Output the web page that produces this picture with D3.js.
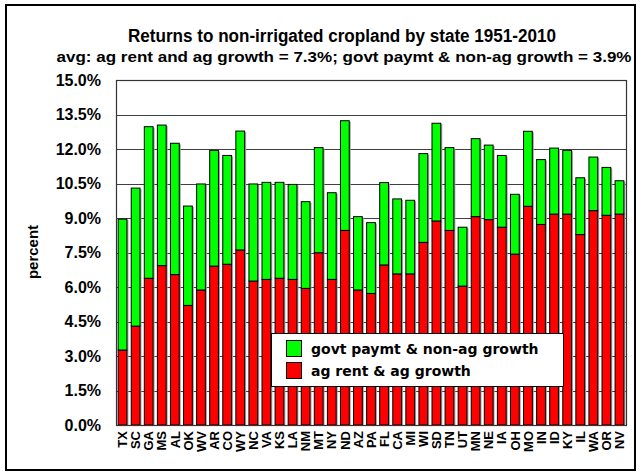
<!DOCTYPE html>
<html><head><meta charset="utf-8">
<script src="https://cdn.jsdelivr.net/npm/d3@7"></script>
<style>body{margin:0;background:#fff}svg{display:block}</style>
</head><body>
<script>
const states = ["TX","SC","GA","MS","AL","OK","WV","AR","CO","WY","NC","VA","KS","LA","NM","MT","NY","ND","AZ","PA","FL","CA","MI","WI","SD","TN","UT","MN","NE","IA","OH","MO","IN","ID","KY","IL","WA","OR","NV"];
const agRent = [3.26,4.30,6.38,6.93,6.54,5.20,5.87,6.91,6.99,7.61,6.26,6.33,6.38,6.33,5.94,7.49,6.33,8.46,5.87,5.72,6.96,6.57,6.57,7.94,8.87,8.46,6.04,9.06,8.93,8.60,7.43,9.51,8.72,9.17,9.17,8.28,9.32,9.12,9.17];
const totalReturn = [8.95,10.30,12.97,13.04,12.25,9.52,10.48,11.94,11.72,12.78,10.48,10.55,10.55,10.46,9.71,12.06,10.10,13.23,9.06,8.80,10.54,9.83,9.77,11.80,13.12,12.06,8.60,12.45,12.17,11.72,10.03,12.77,11.54,12.04,11.94,10.75,11.65,11.20,10.62];
const govtPay = totalReturn.map((t,i)=>+(t-agRent[i]).toFixed(2));
const yTicks = [0,1.5,3,4.5,6,7.5,9,10.5,12,13.5,15];
const seriesNames = ["govt paymt & non-ag growth","ag rent & ag growth"];
const colors = ["#00ff00","#ff0000"];

const W=642,H=474;
const svg=d3.select("body").append("svg").attr("width",W).attr("height",H);
svg.append("rect").attr("x",6).attr("y",5).attr("width",629).attr("height",465).attr("fill","#fff").attr("stroke","#000").attr("stroke-width",2);

const L=116,R=626,T=80,B=425;
const x=d3.scaleBand().domain(states).range([L,R]).paddingInner(0.33).paddingOuter(0.165);
const y=d3.scaleLinear().domain([0,15]).range([B,T]);

svg.append("g").selectAll("line").data(yTicks).join("line")
  .attr("x1",L).attr("x2",R).attr("y1",d=>Math.round(y(d))+0.5).attr("y2",d=>Math.round(y(d))+0.5)
  .attr("stroke","#404040").attr("stroke-width",1);

const data=states.map((s,i)=>({s,ag:agRent[i],gov:govtPay[i]}));
const stack=d3.stack().keys(["ag","gov"])(data);

svg.append("g").selectAll("rect").data(data).join("rect")
  .attr("x",d=>x(d.s)+1.5).attr("y",d=>y(d.ag+d.gov)+1).attr("width",x.bandwidth())
  .attr("height",d=>B-y(d.ag+d.gov)-1).attr("fill","#a0a0a0");

const fillFor={ag:colors[1],gov:colors[0]};
stack.forEach(layer=>{
  svg.append("g").selectAll("rect").data(layer).join("rect")
    .attr("x",d=>x(d.data.s)).attr("y",d=>y(d[1])).attr("width",x.bandwidth())
    .attr("height",d=>y(d[0])-y(d[1]))
    .attr("fill",fillFor[layer.key]).attr("stroke","#000").attr("stroke-width",1);
});

svg.append("rect").attr("x",L+0.5).attr("y",T+0.5).attr("width",R-L).attr("height",B-T)
  .attr("fill","none").attr("stroke","#333").attr("stroke-width",1.2);

const yAxis=d3.axisLeft(y).tickValues(yTicks).tickFormat(d=>d.toFixed(1)+"%").tickSize(0).tickPadding(15);
const ga=svg.append("g").attr("transform",`translate(${L},0)`).call(yAxis);
ga.select(".domain").remove();
ga.selectAll("text").attr("font-family","Liberation Sans, Arial, sans-serif").attr("font-weight","bold").attr("font-size","16px").attr("fill","#000");

const xAxis=d3.axisBottom(x).tickSize(0).tickPadding(0);
const gx=svg.append("g").attr("transform",`translate(0,${B})`).call(xAxis);
gx.select(".domain").remove();
gx.selectAll("text").attr("transform","rotate(-90)").attr("text-anchor","end")
  .attr("x",-6).attr("y",0).attr("dy","0.36em")
  .attr("font-family","Liberation Sans, Arial, sans-serif").attr("font-weight","bold").attr("font-size","13px").attr("fill","#000");

svg.append("text").attr("transform","translate(38,252) rotate(-90)").attr("text-anchor","middle")
  .attr("font-family","Liberation Sans, Arial, sans-serif").attr("font-weight","bold").attr("font-size","15px").text("percent");

svg.append("text").attr("x",342).attr("y",42).attr("text-anchor","middle")
  .attr("font-family","Liberation Sans, Arial, sans-serif").attr("font-weight","bold").attr("font-size","18px")
  .attr("textLength",428).attr("lengthAdjust","spacingAndGlyphs")
  .text("Returns to non-irrigated cropland by state 1951-2010");
svg.append("text").attr("x",344).attr("y",62).attr("text-anchor","middle")
  .attr("font-family","Liberation Sans, Arial, sans-serif").attr("font-weight","bold").attr("font-size","15px")
  .attr("textLength",575).attr("lengthAdjust","spacingAndGlyphs")
  .text("avg: ag rent and ag growth = 7.3%; govt paymt & non-ag growth = 3.9%");

const lg=svg.append("g");
lg.append("rect").attr("x",271.5).attr("y",333.5).attr("width",292).attr("height",53).attr("fill","#fff").attr("stroke","#000").attr("stroke-width",1);
seriesNames.forEach((n,i)=>{
  lg.append("rect").attr("x",286.5).attr("y",340.5+i*22).attr("width",15).attr("height",16).attr("fill",colors[i]).attr("stroke","#000");
  lg.append("text").attr("x",311).attr("y",354+i*22).attr("font-family","DejaVu Sans, sans-serif").attr("font-weight","bold").attr("font-size","14px").text(n);
});
</script>
</body></html>
